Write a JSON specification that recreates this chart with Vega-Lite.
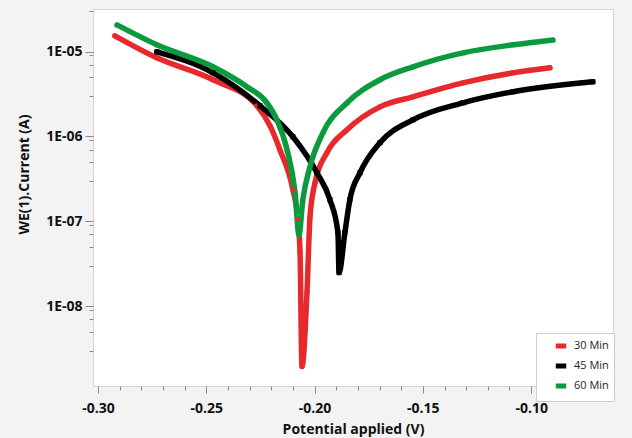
{
  "$schema": "https://vega.github.io/schema/vega-lite/v6.json",
  "width": 520,
  "height": 377,
  "autosize": "none",
  "padding": {"left": 93, "top": 9, "right": 19, "bottom": 52},
  "background": "#f3f3f3",
  "config": {
    "view": {"fill": "white", "stroke": "#d6d6d6"},
    "font": "Open Sans"
  },
  "data": {
    "values": [
      {"s": "30 Min", "v": -0.2922, "i": 1.53e-5},
      {"s": "30 Min", "v": -0.2728, "i": 8.43e-6},
      {"s": "30 Min", "v": -0.2469, "i": 4.65e-6},
      {"s": "30 Min", "v": -0.2266, "i": 2.3e-6},
      {"s": "30 Min", "v": -0.2206, "i": 1.34e-6},
      {"s": "30 Min", "v": -0.2160, "i": 6.98e-7},
      {"s": "30 Min", "v": -0.2100, "i": 2.36e-7},
      {"s": "30 Min", "v": -0.2077, "i": 1.05e-7},
      {"s": "30 Min", "v": -0.2067, "i": 4.28e-8},
      {"s": "30 Min", "v": -0.2058, "i": 1.95e-9},
      {"s": "30 Min", "v": -0.2035, "i": 1.45e-8},
      {"s": "30 Min", "v": -0.2021, "i": 1.13e-7},
      {"s": "30 Min", "v": -0.1998, "i": 2.85e-7},
      {"s": "30 Min", "v": -0.1943, "i": 6.43e-7},
      {"s": "30 Min", "v": -0.1850, "i": 1.20e-6},
      {"s": "30 Min", "v": -0.1698, "i": 2.23e-6},
      {"s": "30 Min", "v": -0.1546, "i": 2.93e-6},
      {"s": "30 Min", "v": -0.1315, "i": 4.28e-6},
      {"s": "30 Min", "v": -0.1084, "i": 5.61e-6},
      {"s": "30 Min", "v": -0.0913, "i": 6.43e-6},
      {"s": "45 Min", "v": -0.2728, "i": 9.91e-6},
      {"s": "45 Min", "v": -0.2469, "i": 5.61e-6},
      {"s": "45 Min", "v": -0.2252, "i": 2.3e-6},
      {"s": "45 Min", "v": -0.2100, "i": 9.9e-7},
      {"s": "45 Min", "v": -0.1989, "i": 3.74e-7},
      {"s": "45 Min", "v": -0.1929, "i": 1.80e-7},
      {"s": "45 Min", "v": -0.1892, "i": 7.36e-8},
      {"s": "45 Min", "v": -0.1887, "i": 2.49e-8},
      {"s": "45 Min", "v": -0.1860, "i": 7.36e-8},
      {"s": "45 Min", "v": -0.1837, "i": 1.80e-7},
      {"s": "45 Min", "v": -0.1790, "i": 3.74e-7},
      {"s": "45 Min", "v": -0.1698, "i": 8.43e-7},
      {"s": "45 Min", "v": -0.1546, "i": 1.57e-6},
      {"s": "45 Min", "v": -0.1315, "i": 2.49e-6},
      {"s": "45 Min", "v": -0.1084, "i": 3.36e-6},
      {"s": "45 Min", "v": -0.0715, "i": 4.40e-6},
      {"s": "60 Min", "v": -0.2912, "i": 2.06e-5},
      {"s": "60 Min", "v": -0.2728, "i": 1.20e-5},
      {"s": "60 Min", "v": -0.2469, "i": 6.61e-6},
      {"s": "60 Min", "v": -0.2312, "i": 3.84e-6},
      {"s": "60 Min", "v": -0.2220, "i": 2.49e-6},
      {"s": "60 Min", "v": -0.2174, "i": 1.57e-6},
      {"s": "60 Min", "v": -0.2127, "i": 6.98e-7},
      {"s": "60 Min", "v": -0.2090, "i": 2.18e-7},
      {"s": "60 Min", "v": -0.2072, "i": 6.97e-8},
      {"s": "60 Min", "v": -0.2054, "i": 1.80e-7},
      {"s": "60 Min", "v": -0.2021, "i": 4.41e-7},
      {"s": "60 Min", "v": -0.1961, "i": 1.11e-6},
      {"s": "60 Min", "v": -0.1850, "i": 2.49e-6},
      {"s": "60 Min", "v": -0.1698, "i": 4.65e-6},
      {"s": "60 Min", "v": -0.1546, "i": 6.61e-6},
      {"s": "60 Min", "v": -0.1315, "i": 9.66e-6},
      {"s": "60 Min", "v": -0.1084, "i": 1.20e-5},
      {"s": "60 Min", "v": -0.0899, "i": 1.37e-5}
    ]
  },
  "encoding": {
    "x": {
      "field": "v",
      "type": "quantitative",
      "scale": {"domain": [-0.3023, -0.0622], "nice": false, "zero": false},
      "axis": {
        "title": "Potential applied (V)",
        "values": [-0.30, -0.29, -0.28, -0.27, -0.26, -0.25, -0.24, -0.23, -0.22, -0.21, -0.20, -0.19, -0.18, -0.17, -0.16, -0.15, -0.14, -0.13, -0.12, -0.11, -0.10, -0.09, -0.08, -0.07],
        "labelExpr": "abs(datum.value*20 - round(datum.value*20)) < 0.01 ? '-' + format(abs(datum.value), '.2f') : ''",
        "tickSize": {"condition": {"test": "abs(datum.value*20 - round(datum.value*20)) < 0.01", "value": 7}, "value": 4},
        "tickColor": "#8a8a8a",
        "domain": false,
        "grid": false,
        "labelFont": "Open Sans",
        "labelFontWeight": "bold",
        "labelFontSize": 14,
        "labelColor": "#111111",
        "labelPadding": 8,
        "labelFlush": false,
        "labelOverlap": false,
        "titleFont": "Open Sans",
        "titleFontWeight": "bold",
        "titleFontSize": 14,
        "titleColor": "#111111",
        "titleY": 43,
        "titleBaseline": "middle"
      }
    },
    "y": {
      "field": "i",
      "type": "quantitative",
      "scale": {"type": "log", "domain": [1.15e-9, 3.17e-5], "nice": false},
      "axis": {
        "title": "WE(1).Current (A)",
        "values": [3e-9, 5e-9, 7e-9, 9e-9, 1e-8, 3e-8, 5e-8, 7e-8, 9e-8, 1e-7, 3e-7, 5e-7, 7e-7, 9e-7, 1e-6, 3e-6, 5e-6, 7e-6, 9e-6, 1e-5, 3e-5],
        "labelExpr": "abs(log(datum.value)/LN10 - round(log(datum.value)/LN10)) < 0.01 ? '1E-0' + (-round(log(datum.value)/LN10)) : ''",
        "tickSize": {"condition": {"test": "abs(log(datum.value)/LN10 - round(log(datum.value)/LN10)) < 0.01", "value": 8}, "value": 4},
        "tickColor": "#8a8a8a",
        "domain": false,
        "grid": false,
        "labelFont": "Open Sans",
        "labelFontWeight": "bold",
        "labelFontSize": 14,
        "labelColor": "#111111",
        "labelPadding": 3,
        "labelFlush": false,
        "labelOverlap": false,
        "titleFont": "Open Sans",
        "titleFontWeight": "bold",
        "titleFontSize": 14,
        "titleColor": "#111111",
        "titleX": -69,
        "titleY": 165,
        "titleBaseline": "middle",
        "titleAngle": -90
      }
    },
    "color": {
      "field": "s",
      "type": "nominal",
      "scale": {"domain": ["30 Min", "45 Min", "60 Min"], "range": ["#e8292c", "#000000", "#0b9a3d"]},
      "legend": {
        "title": null,
        "orient": "none",
        "legendX": 443,
        "legendY": 324,
        "symbolType": "stroke",
        "symbolStrokeWidth": 5,
        "symbolSize": 110,
        "symbolOffset": 12,
        "labelFont": "Open Sans",
        "labelFontSize": 11,
        "labelColor": "#222222",
        "labelOffset": 5,
        "rowPadding": 0,
        "padding": 5,
        "strokeColor": "#cccccc",
        "fillColor": "white"
      }
    }
  },
  "layer": [
    {
      "mark": {"type": "line", "strokeWidth": 5.5, "interpolate": "monotone", "strokeCap": "round", "strokeJoin": "round"}
    },
    {
      "transform": [{"filter": "datum.s === '30 Min'"}],
      "mark": {"type": "point", "filled": true, "size": 26, "opacity": 1, "shape": "circle"}
    },
    {
      "transform": [{"filter": "datum.s === '45 Min'"}],
      "mark": {"type": "point", "filled": true, "size": 26, "opacity": 1, "shape": "square"}
    },
    {
      "transform": [{"filter": "datum.s === '60 Min'"}],
      "mark": {"type": "point", "filled": true, "size": 30, "opacity": 1, "shape": "triangle-up"}
    }
  ]
}
